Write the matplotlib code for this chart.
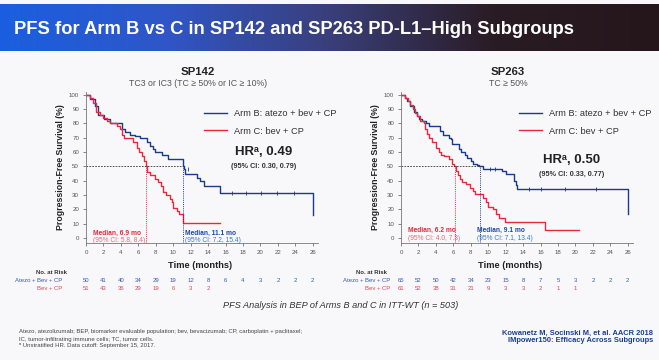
import matplotlib
matplotlib.use("Agg")
import matplotlib.pyplot as plt
import numpy as np
from matplotlib.colors import LinearSegmentedColormap
from matplotlib import transforms

plt.rcParams['font.family'] = ['Liberation Sans', 'DejaVu Sans']

# ---- data ----
months_ticks = list(range(0, 27, 2))

sp142_b_t = [0, 0.5, 1.0, 1.4, 2.1, 2.7, 4.1, 4.5, 5.0, 5.6, 6.2, 7.0, 7.3, 7.7, 7.9,
             8.7, 9.4, 11.1, 11.2, 11.4, 12.7, 13.1, 13.5, 15.4, 26.0]
sp142_b_s = [100, 97, 92, 86, 83, 80, 76, 74, 72, 71, 70, 67, 64, 62, 60,
             58, 55, 50, 48, 45, 42, 40, 36, 31.5, 16]
sp142_c_t = [0, 0.5, 0.8, 1.2, 1.6, 2.0, 2.4, 2.8, 3.6, 3.9, 4.1, 4.3, 5.4, 5.8, 6.1,
             6.4, 6.6, 6.9, 7.0, 7.3, 7.9, 8.2, 8.6, 8.8, 9.2, 9.6, 9.9, 10.0, 10.4,
             10.7, 11.1, 15.4]
sp142_c_s = [100, 98, 94, 88, 86, 84, 82, 80, 78, 76, 72, 70, 67, 63, 60,
             57, 54, 50, 46, 44, 41, 39, 36, 32, 30, 27, 25, 21, 19,
             17, 10.5, 10.5]
sp142_b_cens_t = [11.7, 16.7, 18.4, 20.1, 21.9, 23.8]
sp142_b_cens_s = [48, 31.5, 31.5, 31.5, 31.5, 31.5]

sp263_b_t = [0, 0.45, 0.7, 1.05, 1.5, 1.8, 2.1, 2.4, 2.9, 3.2, 4.5, 4.8, 5.5, 5.7, 5.9,
             6.7, 6.9, 7.3, 7.6, 8.0, 8.3, 8.7, 9.0, 9.4, 11.6, 12.0, 12.9, 13.0, 13.2,
             13.3, 26.0]
sp263_b_s = [100, 98, 96, 92, 88, 85, 83, 82, 80, 78, 75, 72, 70, 69, 66,
             62, 60, 58, 56, 54, 52, 51, 50, 48, 47, 45, 43, 40, 37,
             34, 17]
sp263_c_t = [0, 0.45, 0.85, 1.05, 1.35, 1.6, 1.8, 2.2, 2.6, 2.8, 3.0, 3.2, 3.6, 4.0,
             4.3, 4.6, 4.9, 5.5, 5.8, 6.1, 6.3, 6.5, 6.8, 7.0, 7.4, 7.9, 8.3, 8.5,
             9.4, 9.7, 10.0, 10.6, 10.9, 11.2, 11.9, 16.5, 20.4]
sp263_c_s = [100, 98, 96, 93, 90, 87, 85, 82, 80, 76, 73, 70, 67, 63,
             60, 58, 57, 55, 52, 50, 47, 44, 41, 39, 38, 35, 33, 31,
             28, 25, 22, 20, 17, 14, 11, 5.4, 5.4]
sp263_b_cens_t = [10.2, 10.8, 14.7, 16.1, 18.8, 22.4]
sp263_b_cens_s = [48, 48, 34, 34, 34, 34]

sp142_medians = [6.9, 11.1]
sp263_medians = [6.2, 9.1]

sp142_risk_b = [50, 41, 40, 34, 29, 19, 12, 8, 6, 4, 3, 2, 2, 2]
sp142_risk_c = [51, 43, 36, 29, 19, 6, 3, 2]
sp263_risk_b = [65, 52, 50, 42, 34, 23, 15, 8, 7, 5, 3, 2, 2, 2]
sp263_risk_c = [61, 52, 38, 31, 21, 9, 3, 3, 2, 1, 1]

BLUE = "#1b3a8c"
RED = "#e8283c"
W, H = 659, 360


def fx(x):
    return x / W


def fy(y):
    return 1 - y / H


fig = plt.figure(figsize=(6.59, 3.6), dpi=100)
fig.patch.set_facecolor("#f8f8fa")

# banner
bax = fig.add_axes([0, fy(51), 1, 47 / H])
cmap = LinearSegmentedColormap.from_list("ban", ["#1a5fe0", "#2f56c8", "#3a3f7a", "#2a1c24", "#24161a"])
bax.imshow(np.linspace(0, 1, 256)[None, :], aspect="auto", cmap=cmap, extent=[0, 1, 0, 1])
bax.axis("off")
fig.text(fx(14), fy(29), "PFS for Arm B vs C in SP142 and SP263 PD-L1\u2013High Subgroups",
         color="white", fontsize=13.2, fontweight="bold", va="center", ha="left")

panels = [
    dict(left=86, title="SP142", sub="TC3 or IC3 (TC \u2265 50% or IC \u2265 10%)", tx=198,
         bt=sp142_b_t, bs=sp142_b_s, ct=sp142_c_t, cs=sp142_c_s,
         cen_t=sp142_b_cens_t, cen_s=sp142_b_cens_s, med=sp142_medians,
         hr="0.49", ci="(95% CI: 0.30, 0.79)", hrx=264, hry=152,
         mtxt=["Median, 6.9 mo", "Median, 11.1 mo"],
         mci=["(95% CI: 5.8, 8.4)", "(95% CI: 7.2, 15.4)"], mx=[93, 185], my=233,
         rb=sp142_risk_b, rc=sp142_risk_c, rlab=62, nax=52, xlab=200),
    dict(left=401, title="SP263", sub="TC \u2265 50%", tx=508,
         bt=sp263_b_t, bs=sp263_b_s, ct=sp263_c_t, cs=sp263_c_s,
         cen_t=sp263_b_cens_t, cen_s=sp263_b_cens_s, med=sp263_medians,
         hr="0.50", ci="(95% CI: 0.33, 0.77)", hrx=572, hry=160,
         mtxt=["Median, 6.2 mo", "Median, 9.1 mo"],
         mci=["(95% CI: 4.0, 7.3)", "(95% CI: 7.1, 13.4)"], mx=[408, 477], my=230,
         rb=sp263_risk_b, rc=sp263_risk_c, rlab=390, nax=372, xlab=510),
]

for p in panels:
    ax = fig.add_axes([fx(p["left"]), fy(243), 232 / W, 151 / H])
    ax.set_facecolor("none")
    ax.step(p["bt"], p["bs"], where="post", color=BLUE, lw=1.0, label="Arm B: atezo + bev + CP")
    ax.step(p["ct"], p["cs"], where="post", color=RED, lw=1.0, label="Arm C: bev + CP")
    ax.plot(p["cen_t"], p["cen_s"], ls="none", marker="|", ms=2.5, mew=0.6, color=BLUE)
    m_c, m_b = p["med"]
    ax.plot([0, m_b], [50, 50], color="#333333", ls=(0, (2, 1.5)), lw=0.6)
    ax.plot([m_c, m_c], [-3.5, 50], color=RED, ls=(0, (1, 1.2)), lw=0.7)
    ax.plot([m_b, m_b], [-3.5, 50], color=BLUE, ls=(0, (1, 1.2)), lw=0.7)
    ax.set_xlim(0, 26.6)
    ax.set_ylim(-3.5, 102)
    ax.set_xticks(months_ticks)
    ax.set_yticks(range(0, 101, 10))
    ax.tick_params(labelsize=4.4, colors="#555555", length=2, width=0.5, pad=3)
    for s in ["top", "right"]:
        ax.spines[s].set_visible(False)
    for s in ["left", "bottom"]:
        ax.spines[s].set_color("#777777")
        ax.spines[s].set_linewidth(0.6)
    ax.set_ylabel("Progression-Free Survival (%)", fontsize=6.3, fontweight="bold",
                  color="#222222", labelpad=3)
    ax.legend(loc="upper left", bbox_to_anchor=(fx(p["left"] + 110), fy(101)),
              bbox_transform=fig.transFigure, frameon=False, fontsize=6.7,
              handlelength=2.4, handletextpad=0.8, labelspacing=0.9,
              labelcolor="#333333")

    fig.text(fx(p["tx"]), fy(72), p["title"], fontsize=8.2, fontweight="bold",
             ha="center", va="center", color="#222222")
    fig.text(fx(p["tx"]), fy(84), p["sub"], fontsize=6.3, ha="center", va="center",
             color="#555555")
    fig.text(fx(p["hrx"]), fy(p["hry"]), "HR\u1d43, " + p["hr"], fontsize=9.5,
             fontweight="bold", ha="center", va="center", color="#222222")
    fig.text(fx(p["hrx"]), fy(p["hry"] + 14), p["ci"], fontsize=5.2, fontweight="bold",
             ha="center", va="center", color="#333333")
    for i, col, cicol in [(0, "#e02a3a", "#e56a78"), (1, "#1a47a8", "#3a78c8")]:
        fig.text(fx(p["mx"][i]), fy(p["my"]), p["mtxt"][i], fontsize=4.8, fontweight="bold",
                 ha="left", va="center", color=col)
        fig.text(fx(p["mx"][i]), fy(p["my"] + 8), p["mci"][i], fontsize=4.8,
                 ha="left", va="center", color=cicol)
    fig.text(fx(p["xlab"]), fy(266), "Time (months)", fontsize=6.7, fontweight="bold",
             ha="center", va="center", color="#222222")

    # number at risk
    tr = transforms.blended_transform_factory(ax.transData, fig.transFigure)
    fig.text(fx(p["nax"]), fy(273), "No. at Risk", fontsize=4.3, fontweight="bold",
             ha="center", va="center", color="#333333")
    fig.text(fx(p["rlab"]), fy(281), "Atezo + Bev + CP", fontsize=4.3, ha="right",
             va="center", color="#3558b8")
    fig.text(fx(p["rlab"]), fy(289), "Bev + CP", fontsize=4.3, ha="right",
             va="center", color="#e04658")
    for t, n in zip(months_ticks, p["rb"]):
        ax.text(t, fy(281), str(n), transform=tr, fontsize=4.3, ha="center", va="center",
                color="#3558b8", clip_on=False)
    for t, n in zip(months_ticks, p["rc"]):
        ax.text(t, fy(289), str(n), transform=tr, fontsize=4.3, ha="center", va="center",
                color="#e04658", clip_on=False)

fig.text(fx(341), fy(305), "PFS Analysis in BEP of Arms B and C in ITT-WT (n = 503)",
         fontsize=6.6, style="italic", ha="center", va="center", color="#333333")

foot = ["Atezo, atezolizumab; BEP, biomarker evaluable population; bev, bevacizumab; CP, carboplatin + paclitaxel;",
        "IC, tumor-infiltrating immune cells; TC, tumor cells.",
        "\u1d43 Unstratified HR. Data cutoff: September 15, 2017."]
for i, line in enumerate(foot):
    fig.text(fx(19), fy(332 + 7 * i), line, fontsize=4.3, ha="left", va="center",
             color="#444444")

fig.text(fx(653), fy(333), "Kowanetz M, Socinski M, et al. AACR 2018", fontsize=5.4,
         fontweight="bold", ha="right", va="center", color="#1a3f8f")
fig.text(fx(653), fy(341), "IMpower150: Efficacy Across Subgroups", fontsize=5.4,
         fontweight="bold", ha="right", va="center", color="#1a3f8f")

fig.savefig("out.png", dpi=100, facecolor=fig.get_facecolor())
